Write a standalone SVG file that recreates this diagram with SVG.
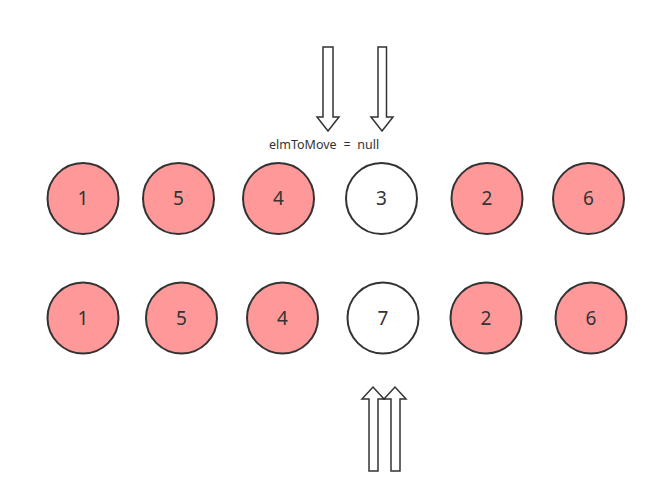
<svg xmlns="http://www.w3.org/2000/svg" width="658" height="503" viewBox="0 0 658 503">
<style>
.n circle{stroke:#333;stroke-width:2}
.red{fill:#ff9999}
.white{fill:#fff}
.lbl{font-family:"Noto Sans","DejaVu Sans",sans-serif;font-size:19px;fill:#333;text-anchor:middle}
.arr{fill:#fff;stroke:#333;stroke-width:1.5;stroke-linejoin:miter}
.cap{font-family:"Noto Sans","DejaVu Sans",sans-serif;font-size:12.5px;fill:#333;word-spacing:3.5px}
</style>
<rect width="658" height="503" fill="#fff"/>
<g id="top-row">
<g id="t1" class="n"><circle class="red" cx="83" cy="198.5" r="35.5"/><text class="lbl" x="83" y="205">1</text></g>
<g id="t5" class="n"><circle class="red" cx="178.5" cy="198.5" r="35.5"/><text class="lbl" x="178.5" y="205">5</text></g>
<g id="t4" class="n"><circle class="red" cx="278.5" cy="198.5" r="35.5"/><text class="lbl" x="278.5" y="205">4</text></g>
<g id="t3" class="n"><circle class="white" cx="381.5" cy="198.5" r="35.5"/><text class="lbl" x="381.5" y="205">3</text></g>
<g id="t2" class="n"><circle class="red" cx="487" cy="198.5" r="35.5"/><text class="lbl" x="487" y="205">2</text></g>
<g id="t6" class="n"><circle class="red" cx="588.5" cy="198.5" r="35.5"/><text class="lbl" x="588.5" y="205">6</text></g>
</g>
<g id="bottom-row">
<g id="b1" class="n"><circle class="red" cx="83" cy="318" r="35.5"/><text class="lbl" x="83" y="324.5">1</text></g>
<g id="b5" class="n"><circle class="red" cx="181.5" cy="318" r="35.5"/><text class="lbl" x="181.5" y="324.5">5</text></g>
<g id="b4" class="n"><circle class="red" cx="282.5" cy="318" r="35.5"/><text class="lbl" x="282.5" y="324.5">4</text></g>
<g id="b7" class="n"><circle class="white" cx="383" cy="318" r="35.5"/><text class="lbl" x="383" y="324.5">7</text></g>
<g id="b2" class="n"><circle class="red" cx="486" cy="318" r="35.5"/><text class="lbl" x="486" y="324.5">2</text></g>
<g id="b6" class="n"><circle class="red" cx="591" cy="318" r="35.5"/><text class="lbl" x="591" y="324.5">6</text></g>
</g>
<g id="connectors">
<polygon class="arr" points="323,47 333,47 333,117 339,117 328,131 317,117 323,117"/>
<polygon class="arr" points="378,47 386.5,47 386.5,117 393,117 382,131 371,117 378,117"/>
<polygon class="arr" points="369,471 378,471 378,399 384,399 373,387 362,399 369,399"/>
<polygon class="arr" points="391,471 400,471 400,399 406,399 395,387 384,399 391,399"/>
</g>
<text class="cap" x="269" y="149">elmToMove = null</text>
</svg>
